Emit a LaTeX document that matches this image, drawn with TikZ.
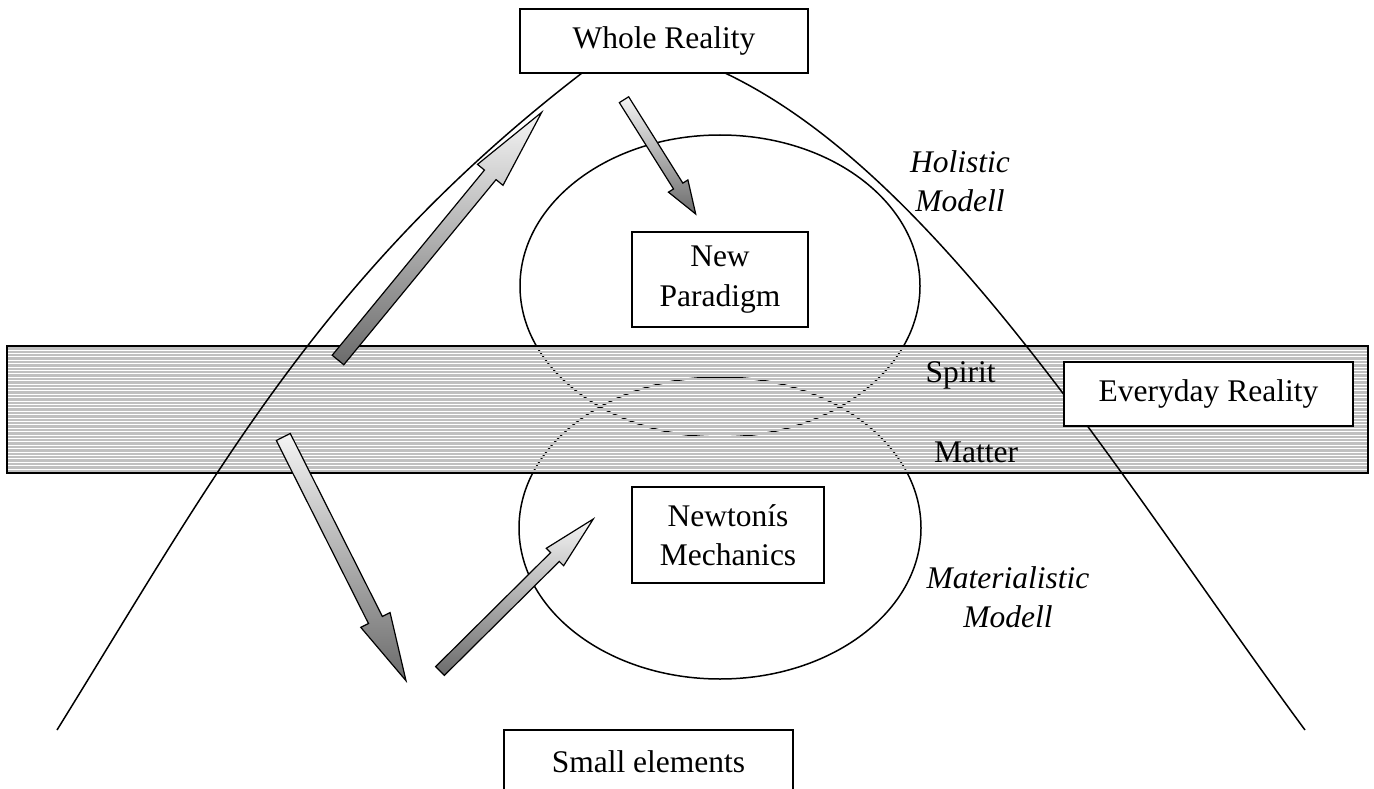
\documentclass[tikz,border=0pt]{standalone}
\usepackage{fontspec}
\setmainfont{Liberation Serif}
\usetikzlibrary{calc}
\definecolor{bandgray}{HTML}{C0C0C0}
\tikzset{
  lbl/.style={font=\fontsize{31.5}{39.5}\selectfont, align=center, inner sep=0pt},
  ilbl/.style={lbl, font=\fontsize{31.5}{39.5}\selectfont\itshape},
  rbox/.style={lbl, draw, fill=white, line width=1.6pt},
  thin line/.style={line width=1.5pt},
  blockarrow/.style={draw=black, line width=1.2pt, line join=miter, top color=white!96!black, bottom color=black!58},
}
\newcommand{\blockarr}[5]{%
  \coordinate (N) at ($(#2)!#5!(#1)$);
  \path[blockarrow] ($(#1)!#3!90:(#2)$) -- ($(N)!#3!90:(#2)$) -- ($(N)!#4!90:(#2)$) -- (#2)
    -- ($(N)!#4!-90:(#2)$) -- ($(N)!#3!-90:(#2)$) -- ($(#1)!#3!-90:(#2)$) -- cycle;}
\begin{document}
\begin{tikzpicture}[x=1pt,y=-1pt]
\useasboundingbox (0,0) rectangle (1374,789);
% ellipses
\draw[thin line] (720,286) ellipse [x radius=200, y radius=151];
\draw[thin line] (720,528) ellipse [x radius=201, y radius=151];
% band stripes
\foreach \yy in {348.3,351.7,...,471.5} {\draw[line width=2.4pt, bandgray] (7,\yy) -- (1368,\yy);}
\draw[line width=1.7pt] (7,346) rectangle (1368,473);
% big curve
\draw[thin line] (57,730) .. controls (215,475) and (321,274) .. (582,73)
  .. controls (615,48) and (690,50) .. (725,73)
  .. controls (940,175) and (1125,486) .. (1305,730);
% block arrows
\coordinate (aT) at (338,360); \coordinate (aP) at (541.7,112.3);
\coordinate (bT) at (624,99.7); \coordinate (bP) at (695.7,214);
\coordinate (cT) at (283.3,437); \coordinate (cP) at (406,680.7);
\coordinate (dT) at (440,671); \coordinate (dP) at (593.3,519);
\blockarr{aT}{aP}{7.5pt}{16.5pt}{81pt}
\blockarr{bT}{bP}{5.5pt}{11.5pt}{33pt}
\blockarr{cT}{cP}{7.8pt}{16.4pt}{68pt}
\blockarr{dT}{dP}{6.2pt}{12.3pt}{54pt}
% boxes
\node[rbox, minimum width=288pt, minimum height=64pt] (whole) at (664,41) {Whole Reality};
\node[rbox, minimum width=176pt, minimum height=95pt] (newp) at (720,279.5) {New\\Paradigm};
\node[rbox, minimum width=192pt, minimum height=96pt] (newton) at (728,535) {Newtonís\\Mechanics};
\node[rbox, minimum width=289pt, minimum height=64pt] (everyday) at (1208.5,394) {Everyday Reality};
\node[rbox, minimum width=289pt, minimum height=64pt] (small) at (648.5,762) {Small elements};
% labels
\node[ilbl] (holistic) at (960,181) {Holistic\\Modell};
\node[ilbl] (material) at (1008,597) {Materialistic\\Modell};
\node[lbl, anchor=base] (spirit) at (960.5,382) {Spirit};
\node[lbl, anchor=base] (matter) at (976,462) {Matter};
\end{tikzpicture}
\end{document}
